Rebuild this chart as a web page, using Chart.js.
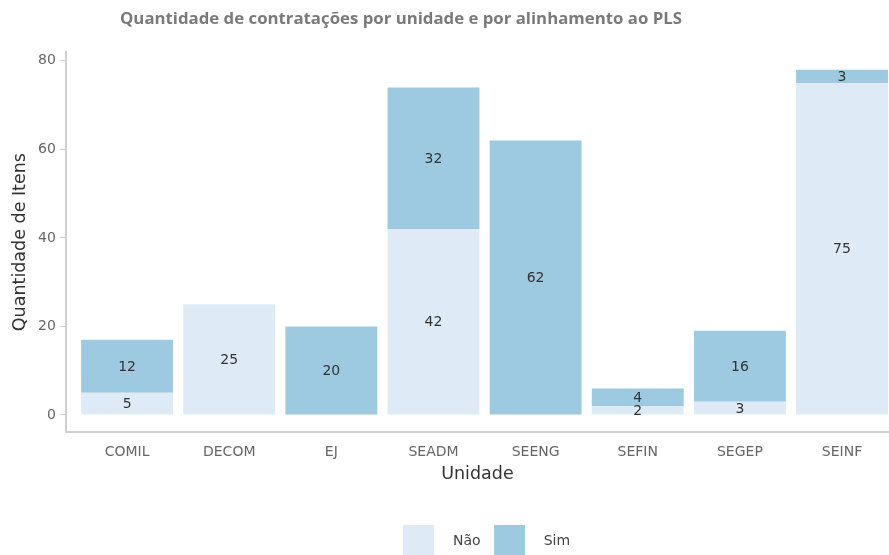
<!DOCTYPE html>
<html>
<head>
<meta charset="utf-8">
<script src="https://cdn.jsdelivr.net/npm/chart.js@4"></script>
<style>
  body { margin: 0; background: #fff; }
  #wrap { position: relative; width: 889px; height: 555px; overflow: hidden; }
  #titulo { position: absolute; left: 120px; top: 6px; font-family: "Open Sans", sans-serif; font-weight: 700; font-size: 16.8px; color: #7a7a7a; white-space: nowrap; }
  #legenda { position: absolute; top: 525px; left: 403px; font-family: "DejaVu Sans", sans-serif; font-size: 14px; color: #444; white-space: nowrap; }
  #legenda span.caixa { display: inline-block; width: 31px; height: 30px; vertical-align: middle; }
  #legenda span.txt { display: inline-block; vertical-align: middle; margin-left: 19px; margin-right: 13px; }
</style>
</head>
<body>
<div id="wrap">
  <div id="titulo">Quantidade de contratações por unidade e por alinhamento ao PLS</div>
  <canvas id="grafico" width="889" height="555"></canvas>
  <div id="legenda"></div>
</div>
<script>
 var unidades = ["COMIL", "DECOM", "EJ", "SEADM", "SEENG", "SEFIN", "SEGEP", "SEINF"];
 var nao = [5, 25, 0, 42, 0, 2, 3, 75];
 var sim = [12, 0, 20, 32, 62, 4, 16, 3];
 var yTicks = [0, 20, 40, 60, 80];

 function pontos(valores) {
   return valores.map(function (v, i) { return { x: i + 1, y: v }; });
 }

 // rotulos no meio de cada segmento
 var rotulos = {
   id: 'rotulos',
   afterDatasetsDraw: function (chart) {
     var ctx = chart.ctx;
     ctx.save();
     ctx.font = '14px "DejaVu Sans"';
     ctx.fillStyle = '#333';
     ctx.textAlign = 'center';
     ctx.textBaseline = 'middle';
     chart.data.datasets.forEach(function (ds, di) {
       chart.getDatasetMeta(di).data.forEach(function (bar, i) {
         var v = ds.data[i].y;
         if (!v) return;
         ctx.fillText(v, bar.x, (bar.y + bar.base) / 2 + 1);
       });
     });
     ctx.restore();
   }
 };

 var ctx = document.getElementById("grafico");
 var grafico = new Chart(ctx, {
   type: 'bar',
   data: {
     datasets: [{
       label: 'Não',
       data: pontos(nao),
       backgroundColor: '#deebf7',
       barPercentage: 0.9,
       categoryPercentage: 1,
     }, {
       label: 'Sim',
       data: pontos(sim),
       backgroundColor: '#9ecae1',
       barPercentage: 0.9,
       categoryPercentage: 1,
     }],
   },
   plugins: [rotulos],
   options: {
     responsive: false,
     animation: false,
     layout: { padding: { top: 52, left: 10, right: 0, bottom: 70 } },
     plugins: {
       tooltip: { enabled: false },
       legend: { display: false },
     },
     scales: {
       x: {
         type: 'linear',
         stacked: true,
         offset: false,
         min: 0.4,
         max: 8.46,
         afterBuildTicks: function (scale) {
           scale.ticks = unidades.map(function (u, i) { return { value: i + 1 }; });
         },
         ticks: {
           color: '#666',
           font: { family: 'DejaVu Sans', size: 14 },
           padding: 4,
           callback: function (v) { return unidades[v - 1]; },
         },
         grid: { display: false },
         border: { display: true, color: '#d0d0d0', width: 2 },
         title: {
           display: true,
           text: 'Unidade',
           color: '#333',
           font: { family: 'DejaVu Sans', size: 17.5 },
           padding: { top: -1, bottom: 0 },
         },
       },
       y: {
         stacked: true,
         min: -3.9,
         max: 82,
         afterBuildTicks: function (scale) {
           scale.ticks = yTicks.map(function (v) { return { value: v }; });
         },
         ticks: {
           color: '#666',
           font: { family: 'DejaVu Sans', size: 14 },
           padding: 4,
         },
         grid: { drawOnChartArea: false, tickLength: 6, color: '#ccc', lineWidth: 1 },
         border: { display: true, color: '#d0d0d0', width: 2 },
         title: {
           display: true,
           text: 'Quantidade de Itens',
           color: '#333',
           font: { family: 'DejaVu Sans', size: 17.5 },
           padding: { top: 0, bottom: 3 },
         },
       },
     },
   },
 });

 // legenda em html, a partir dos datasets
 var leg = document.getElementById('legenda');
 grafico.data.datasets.forEach(function (ds) {
   leg.innerHTML += '<span class="caixa" style="background:' + ds.backgroundColor + '"></span><span class="txt">' + ds.label + '</span>';
 });
</script>
</body>
</html>
